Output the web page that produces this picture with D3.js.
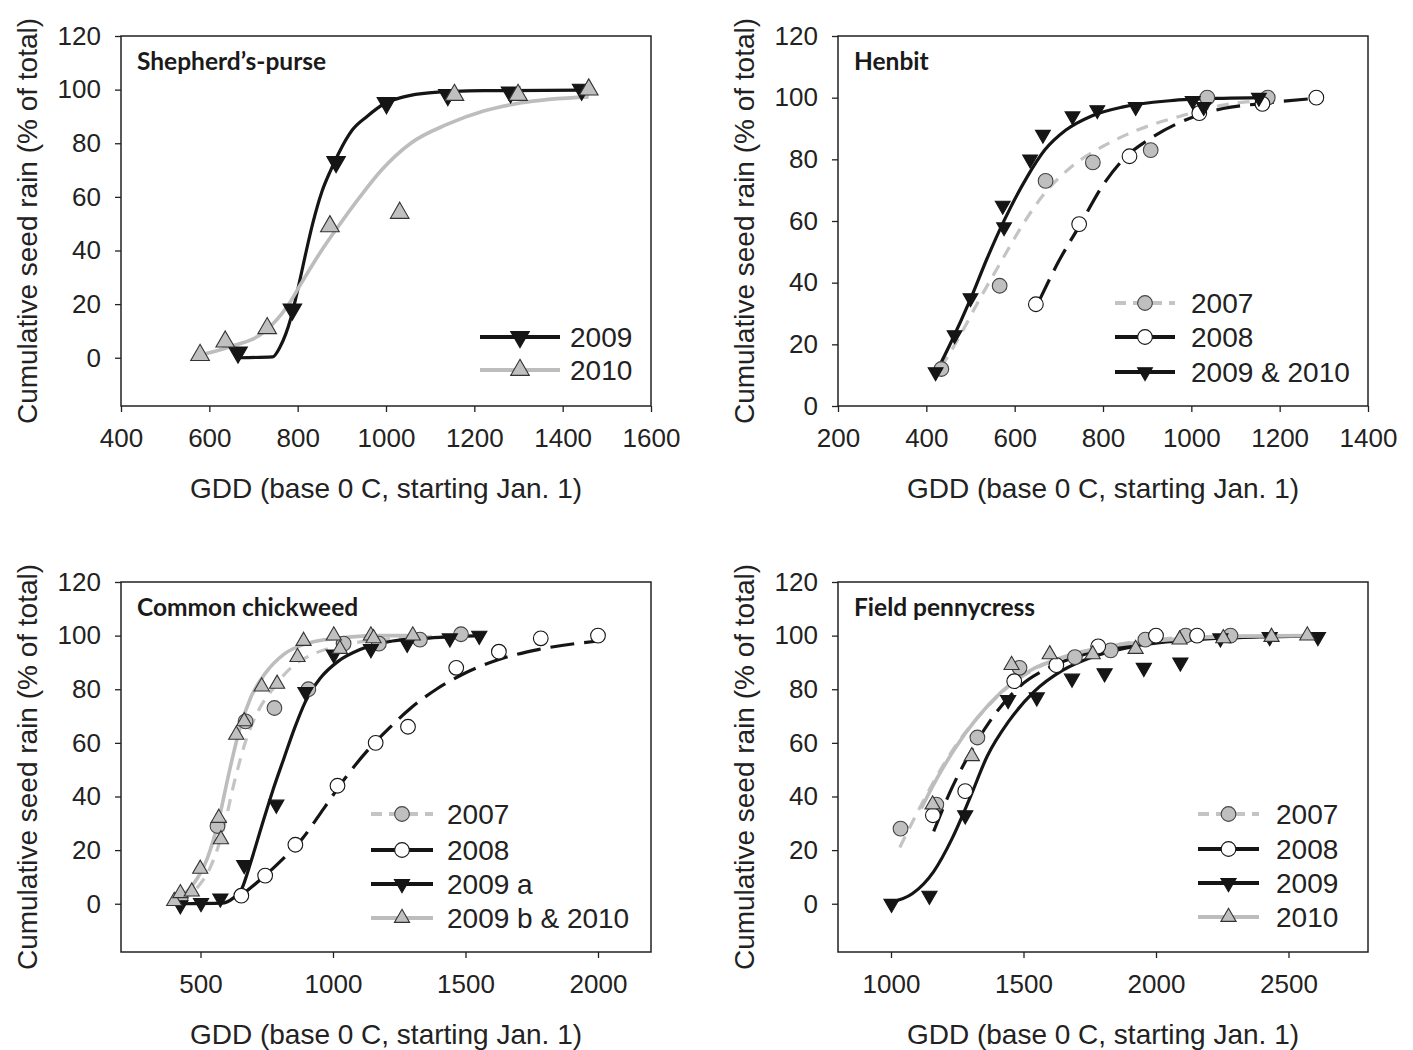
<!DOCTYPE html>
<html>
<head>
<meta charset="utf-8">
<script src="https://cdn.jsdelivr.net/npm/d3@7"></script>
<style>
  body { margin: 0; background: #fff; }
  svg { display: block; }
  .tick text { font-family: 'Liberation Sans', Arial, sans-serif; font-size: 26px; fill: #222; }
  .tick line { stroke: #222; stroke-width: 1.3; }
  .domain { display: none; }
</style>
</head>
<body>
<div id="chart"></div>
<script>
// ---------- data (GDD, cumulative %) ----------
const yTicks = [0, 20, 40, 60, 80, 100, 120]

// Shepherd's-purse
const spTicks = [400, 600, 800, 1000, 1200, 1400, 1600]
const spObs2009 = [[665, 2], [788, 18], [887, 73], [1001, 95], [1140, 98], [1282, 99], [1443, 100]]
const spObs2010 = [[579, 1], [636, 6], [731, 11], [873, 49], [1031, 54], [1155, 98], [1299, 98], [1459, 100]]
const spFit2009 = [[669, 0], [743, 0.3], [760, 4], [785, 15], [801, 26], [817, 38], [834, 50], [855, 62], [875, 70], [892, 76], [924, 85], [957, 90], [999, 95], [1040, 97.3], [1097, 98.8], [1221, 99.6], [1443, 99.8]]
const spFit2010 = [[579, 1], [645, 4], [727, 10], [776, 19], [809, 28], [850, 39], [892, 49], [941, 60], [990, 70], [1056, 80], [1138, 87], [1221, 92], [1303, 95], [1459, 97.3]]

// Henbit
const hbTicks = [200, 400, 600, 800, 1000, 1200, 1400]
const hbObs2007 = [[434, 12], [566, 39], [670, 73], [777, 79], [908, 83], [1036, 100], [1173, 100]]
const hbObs2008 = [[648, 33], [746, 59], [860, 81], [1018, 95], [1161, 98], [1283, 100]]
const hbObs0910 = [[421, 11], [464, 23], [500, 35], [573, 65], [576, 58], [635, 80], [664, 88], [731, 94], [787, 96], [874, 97], [1003, 99], [1028, 97], [1153, 100]]
const hbFit2007 = [[434, 12.6], [473, 22], [522, 35], [570, 47], [619, 59], [668, 69], [732, 78], [797, 84], [878, 89.5], [975, 94], [1072, 97.6], [1173, 99.2]]
const hbFit2008 = [[655, 34], [700, 47], [749, 59], [797, 71], [846, 80], [910, 87], [991, 93], [1072, 96.5], [1153, 98], [1283, 99.8]]
const hbFit0910 = [[421, 10.5], [457, 21], [498, 34], [538, 48], [579, 61], [627, 74], [668, 83], [716, 89.5], [773, 94], [846, 97], [951, 99], [1072, 99.8], [1161, 100]]

// Common chickweed
const ccTicks = [500, 1000, 1500, 2000]
const ccObs2007 = [[425, 2], [564, 29], [670, 68], [779, 73], [907, 80], [1040, 97], [1173, 97], [1328, 98.5], [1483, 100.5]]
const ccObs2008 = [[654, 3], [744, 10.5], [858, 22], [1017, 44], [1161, 60], [1283, 66], [1465, 88], [1626, 94], [1784, 99], [2000, 100]]
const ccObs2009a = [[424, -0.5], [502, 0.3], [575, 2], [665, 14.5], [786, 37], [896, 79], [1003, 93], [1143, 95], [1280, 97], [1441, 99], [1552, 100]]
const ccObs0910 = [[401, 1], [424, 3.9], [467, 4.5], [499, 13], [577, 24], [569, 32], [635, 63], [665, 68], [731, 81], [789, 82], [866, 92], [889, 98], [1003, 100], [1026, 95], [1143, 100], [1153, 99], [1301, 100]]
const ccFit2007 = [[423, 1.2], [484, 5.6], [539, 14], [587, 28], [628, 45.5], [670, 60.5], [718, 72], [772, 80], [841, 88], [923, 93], [1033, 96.4], [1157, 98.3], [1328, 99.4], [1483, 100]]
const ccFit2008 = [[654, 3.1], [745, 10.6], [814, 17], [882, 24], [965, 35.5], [1047, 47], [1129, 57], [1212, 65.5], [1294, 73], [1390, 80], [1486, 85.4], [1623, 91], [1774, 94.8], [2000, 98]]
const ccFit2009a = [[423, 0], [580, 0.2], [622, 2], [656, 5.6], [690, 15.6], [731, 29], [772, 42], [814, 54], [855, 65.5], [896, 75.4], [951, 84], [1019, 90.4], [1102, 94.8], [1225, 98], [1362, 99.1], [1568, 100]]
const ccFit0910 = [[402, 1.2], [471, 7], [526, 17], [567, 30.5], [608, 49], [649, 65.5], [690, 77], [745, 86], [814, 93], [910, 97.3], [1019, 99], [1157, 100], [1301, 100]]

// Field pennycress
const fpTicks = [1000, 1500, 2000, 2500]
const fpObs2007 = [[1036, 28], [1171, 37], [1326, 62], [1485, 88], [1694, 92], [1829, 94.5], [1960, 98.5], [2112, 100], [2281, 100]]
const fpObs2008 = [[1158, 33], [1280, 42], [1465, 83], [1624, 89], [1782, 96], [2000, 100], [2155, 100]]
const fpObs2009 = [[1002, 0], [1145, 3], [1280, 33], [1442, 76], [1550, 77], [1683, 84], [1806, 86], [1954, 88], [2092, 90], [2243, 99], [2429, 99.5], [2611, 99.5]]
const fpObs2010 = [[1157, 37], [1305, 55], [1455, 89], [1599, 93], [1761, 93], [1923, 95], [2089, 98.5], [2254, 99], [2436, 99.5], [2571, 100]]
const fpFit2007 = [[1033, 21], [1107, 35.5], [1175, 48], [1255, 60.5], [1336, 70.4], [1431, 80], [1552, 88], [1687, 93], [1849, 96.6], [2051, 99], [2281, 99.8]]
const fpFit2008 = [[1161, 27], [1229, 43], [1309, 58], [1390, 70.4], [1485, 81], [1606, 88.5], [1741, 93.3], [1917, 96.6], [2119, 98.5], [2281, 99.5]]
const fpFit2009 = [[1002, 0.6], [1080, 3.7], [1161, 12], [1229, 24], [1296, 39], [1363, 55], [1444, 68], [1539, 79], [1647, 87], [1768, 92.3], [1917, 96], [2119, 98.3], [2389, 99.5], [2611, 99.8]]
const fpFit2010 = [[1114, 35.5], [1175, 47], [1242, 58], [1323, 69], [1417, 79], [1525, 87], [1660, 92.3], [1822, 96], [2051, 98.5], [2321, 99.8], [2571, 100]]

// ---------- styles ----------
const lineStyles = {
  blackSolid: { stroke: '#151515', width: 3.2, dash: null },
  graySolid: { stroke: '#bdbdbd', width: 3.6, dash: null },
  grayDash: { stroke: '#c4c4c4', width: 3.2, dash: '12,9' },
  blackDash: { stroke: '#151515', width: 3.2, dash: '24,10' },
}
const markers = {
  down: { type: d3.symbolTriangle, rot: 180, fill: '#151515', stroke: '#151515' },
  up: { type: d3.symbolTriangle, rot: 0, fill: '#c0c0c0', stroke: '#333' },
  grayCircle: { type: d3.symbolCircle, rot: 0, fill: '#bfbfbf', stroke: '#444' },
  openCircle: { type: d3.symbolCircle, rot: 0, fill: '#fff', stroke: '#151515' },
}

var width = 1413,
  height = 1050,
  plotW = 530,
  plotH = 370

const panels = [
  {
    title: 'Shepherd\u2019s-purse', left: 121, top: 36, xDomain: [400, 1600], xTicks: spTicks, yMin: -18, triSize: 150,
    legendRows: [-69, -36], legendX: [-171, -91, -81],
    series: [
      { label: '2009', fit: spFit2009, obs: spObs2009, line: 'blackSolid', marker: 'down' },
      { label: '2010', fit: spFit2010, obs: spObs2010, line: 'graySolid', marker: 'up' },
    ],
  },
  {
    title: 'Henbit', left: 838, top: 36, xDomain: [200, 1400], xTicks: hbTicks, yMin: 0, triSize: 95,
    legendRows: [-103, -69, -34], legendX: [-253, -193, -177],
    series: [
      { label: '2007', fit: hbFit2007, obs: hbObs2007, line: 'grayDash', marker: 'grayCircle' },
      { label: '2008', fit: hbFit2008, obs: hbObs2008, line: 'blackDash', marker: 'openCircle' },
      { label: '2009 & 2010', fit: hbFit0910, obs: hbObs0910, line: 'blackSolid', marker: 'down' },
    ],
  },
  {
    title: 'Common chickweed', left: 121, top: 582, xDomain: [200, 2200], xTicks: ccTicks, yMin: -18, triSize: 100,
    legendRows: [-138, -102, -68, -34], legendX: [-280, -218, -204],
    series: [
      { label: '2007', fit: ccFit2007, obs: ccObs2007, line: 'grayDash', marker: 'grayCircle' },
      { label: '2008', fit: ccFit2008, obs: ccObs2008, line: 'blackDash', marker: 'openCircle' },
      { label: '2009 a', fit: ccFit2009a, obs: ccObs2009a, line: 'blackSolid', marker: 'down' },
      { label: '2009 b & 2010', fit: ccFit0910, obs: ccObs0910, line: 'graySolid', marker: 'up' },
    ],
  },
  {
    title: 'Field pennycress', left: 838, top: 582, xDomain: [800, 2800], xTicks: fpTicks, yMin: -18, triSize: 100,
    legendRows: [-138, -103, -69, -35], legendX: [-170, -109, -92],
    series: [
      { label: '2007', fit: fpFit2007, obs: fpObs2007, line: 'grayDash', marker: 'grayCircle' },
      { label: '2008', fit: fpFit2008, obs: fpObs2008, line: 'blackDash', marker: 'openCircle' },
      { label: '2009', fit: fpFit2009, obs: fpObs2009, line: 'blackSolid', marker: 'down' },
      { label: '2010', fit: fpFit2010, obs: fpObs2010, line: 'graySolid', marker: 'up' },
    ],
  },
]

var svg = d3
  .select('#chart')
  .append('svg')
  .attr('width', width)
  .attr('height', height)

const circleSize = 170

function markerPath(key, triSize) {
  const m = markers[key]
  const size = m.type === d3.symbolCircle ? circleSize : triSize
  return d3.symbol().type(m.type).size(size)()
}

panels.forEach(p => {
  const g = svg.append('g').attr('transform', 'translate(' + p.left + ',' + p.top + ')')

  const x = d3.scaleLinear().domain(p.xDomain).range([0, plotW])
  const y = d3.scaleLinear().domain([p.yMin, 120]).range([plotH, 0])

  // axes
  g.append('g')
    .attr('transform', 'translate(0,' + plotH + ')')
    .call(d3.axisBottom(x).tickValues(p.xTicks).tickSize(6).tickPadding(17).tickFormat(d3.format('d')))
  g.append('g')
    .call(d3.axisLeft(y).tickValues(yTicks).tickSize(6).tickPadding(14))

  // frame
  g.append('rect')
    .attr('width', plotW)
    .attr('height', plotH)
    .attr('fill', 'none')
    .attr('stroke', '#222')
    .attr('stroke-width', 1.5)

  // axis titles
  g.append('text')
    .attr('x', plotW / 2)
    .attr('y', plotH + 92)
    .attr('text-anchor', 'middle')
    .style('font-family', "'Liberation Sans', Arial, sans-serif")
    .style('font-size', '28px')
    .style('fill', '#222')
    .text('GDD (base 0 C, starting Jan. 1)')
  g.append('text')
    .attr('transform', 'translate(-84,' + plotH / 2 + ') rotate(-90)')
    .attr('text-anchor', 'middle')
    .style('font-family', "'Liberation Sans', Arial, sans-serif")
    .style('font-size', '28px')
    .style('fill', '#222')
    .text('Cumulative seed rain (% of total)')

  // panel title
  g.append('text')
    .attr('x', 16)
    .attr('y', 34)
    .style('font-family', 'Lato, "Open Sans", sans-serif')
    .style('font-weight', 700)
    .style('font-size', '24.5px')
    .style('fill', '#1a1a1a')
    .text(p.title)

  const line = d3
    .line()
    .x(d => x(d[0]))
    .y(d => y(d[1]))
    .curve(d3.curveMonotoneX)

  // fitted curves
  g.selectAll('path.fit')
    .data(p.series)
    .enter()
    .append('path')
    .attr('class', 'fit')
    .attr('d', s => line(s.fit))
    .attr('fill', 'none')
    .attr('stroke', s => lineStyles[s.line].stroke)
    .attr('stroke-width', s => lineStyles[s.line].width)
    .attr('stroke-dasharray', s => lineStyles[s.line].dash)

  // observations
  p.series.forEach(s => {
    const m = markers[s.marker]
    g.selectAll(null)
      .data(s.obs)
      .enter()
      .append('path')
      .attr('d', markerPath(s.marker, p.triSize))
      .attr('transform', d => 'translate(' + x(d[0]) + ',' + y(d[1]) + ') rotate(' + m.rot + ')')
      .attr('fill', m.fill)
      .attr('stroke', m.stroke)
      .attr('stroke-width', 1.1)
  })

  // legend
  const lg = g.append('g').attr('transform', 'translate(' + plotW + ',' + plotH + ')')
  p.series.forEach((s, i) => {
    const ls = lineStyles[s.line]
    const m = markers[s.marker]
    const row = lg.append('g').attr('transform', 'translate(0,' + p.legendRows[i] + ')')
    const x0 = p.legendX[0], x1 = p.legendX[1]
    const mid = (x0 + x1) / 2
    let dash = null
    if (s.line === 'grayDash') dash = '11,7'
    if (s.line === 'blackDash') dash = ((x1 - x0) / 2 - 4) + ',8'
    row.append('line')
      .attr('x1', x0).attr('x2', x1)
      .attr('stroke', ls.stroke)
      .attr('stroke-width', ls.width + 0.6)
      .attr('stroke-dasharray', dash)
    row.append('path')
      .attr('d', markerPath(s.marker, p.triSize))
      .attr('transform', 'translate(' + mid + ',0) rotate(' + m.rot + ')')
      .attr('fill', m.fill)
      .attr('stroke', m.stroke)
      .attr('stroke-width', 1.1)
    row.append('text')
      .attr('x', p.legendX[2])
      .attr('dy', '0.36em')
      .style('font-family', "'Liberation Sans', Arial, sans-serif")
      .style('font-size', '28px')
      .style('fill', '#222')
      .text(s.label)
  })
})
</script>
</body>
</html>
